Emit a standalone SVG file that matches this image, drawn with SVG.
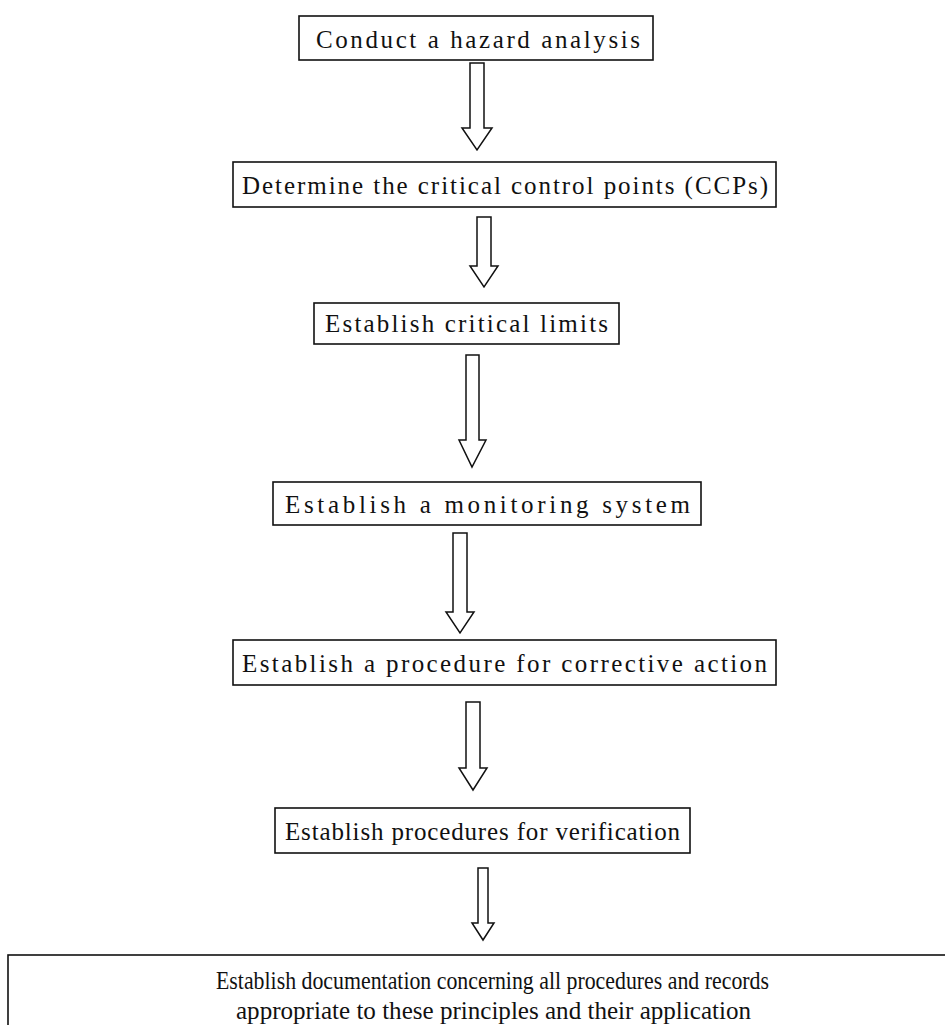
<svg xmlns="http://www.w3.org/2000/svg" width="945" height="1025" viewBox="0 0 945 1025">
<style>
.box{fill:#fff;stroke:#111;stroke-width:1.6}
.arr{fill:#fff;stroke:#111;stroke-width:1.5;stroke-linejoin:miter}
.t{font-family:"Liberation Serif","Times New Roman",serif;font-size:25px;fill:#111;text-anchor:start}
.t2{font-family:"Liberation Serif","Times New Roman",serif;font-size:25px;fill:#111;text-anchor:start}
</style>
<rect width="945" height="1025" fill="#fff"/>
<g id="connectors">
<path class="arr" d="M470,63 H484 V128 H492 L477,150 L462,128 H470 Z"/>
<path class="arr" d="M477,217 H491 V266 H498 L484,287 L470,266 H477 Z"/>
<path class="arr" d="M466,355 H479 V440 H486 L472,467 L459,440 H466 Z"/>
<path class="arr" d="M453,533 H467 V612 H474 L460,633 L446,612 H453 Z"/>
<path class="arr" d="M466,702 H480 V768 H487 L473,790 L459,768 H466 Z"/>
<path class="arr" d="M478,868 H488 V923 H494 L483,940 L472,923 H478 Z"/>
</g>
<g id="n1"><rect class="box" x="299" y="16" width="354" height="44"/><text class="t" x="316" y="48" textLength="324" lengthAdjust="spacing">Conduct a hazard analysis</text></g>
<g id="n2"><rect class="box" x="233" y="162" width="543" height="45"/><text class="t" x="242" y="194" textLength="526" lengthAdjust="spacing">Determine the critical control points (CCPs)</text></g>
<g id="n3"><rect class="box" x="314" y="303" width="305" height="41"/><text class="t" x="325" y="332" textLength="283" lengthAdjust="spacing">Establish critical limits</text></g>
<g id="n4"><rect class="box" x="273" y="482" width="428" height="43"/><text class="t" x="285" y="513" textLength="405" lengthAdjust="spacing">Establish a monitoring system</text></g>
<g id="n5"><rect class="box" x="233" y="640" width="543" height="45"/><text class="t" x="242" y="672" textLength="525" lengthAdjust="spacing">Establish a procedure for corrective action</text></g>
<g id="n6"><rect class="box" x="275" y="808" width="415" height="45"/><text class="t" x="285" y="840" textLength="395" lengthAdjust="spacing">Establish procedures for verification</text></g>
<g id="n7"><rect class="box" x="8" y="955" width="960" height="90"/><text class="t2" x="216" y="989" textLength="553" lengthAdjust="spacingAndGlyphs">Establish documentation concerning all procedures and records</text><text class="t2" x="236" y="1019" textLength="515" lengthAdjust="spacingAndGlyphs">appropriate to these principles and their application</text></g>
</svg>
